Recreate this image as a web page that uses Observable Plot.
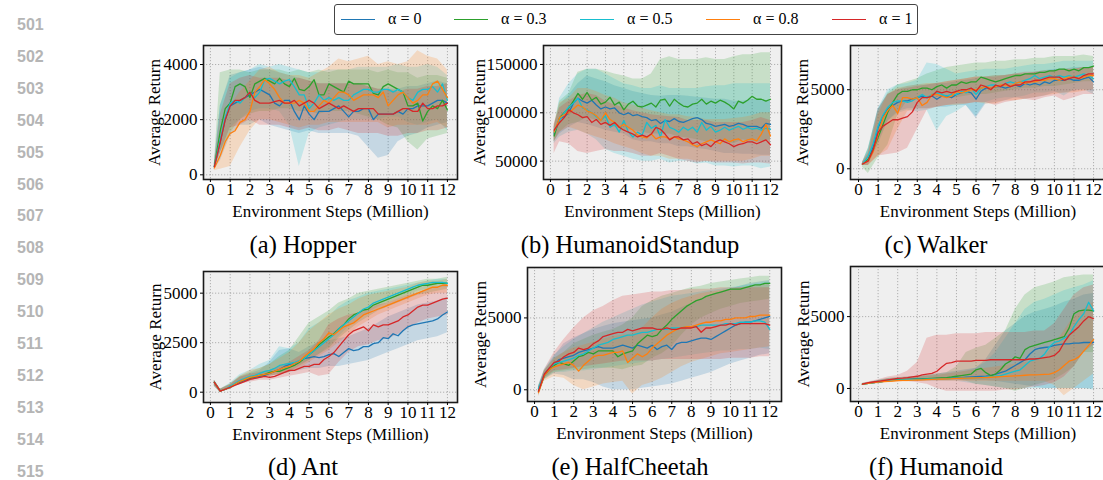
<!DOCTYPE html>
<html><head><meta charset="utf-8">
<script src="https://cdn.jsdelivr.net/npm/d3@7"></script>
<script src="https://cdn.jsdelivr.net/npm/@observablehq/plot@0.6"></script>
<style>
html,body{margin:0;padding:0;background:#fff;}
body{width:1103px;height:480px;overflow:hidden;position:relative;font-family:"Liberation Serif","Times New Roman",serif;}
.lineno{position:absolute;left:17px;font-family:"Liberation Sans",Arial,sans-serif;font-weight:bold;font-size:16px;color:#b5b5b5;line-height:16px;}
.caption{position:absolute;width:400px;text-align:center;font-size:24.5px;line-height:28px;color:#000;font-family:"Liberation Serif","Times New Roman",serif;}
.legend{position:absolute;left:334px;top:4px;width:582px;height:29px;border:1px solid #444;border-radius:3px;background:#fff;}
.lg-line{position:absolute;height:1.4px;top:14px;width:34px;}
.lg-text{position:absolute;top:4px;font-size:16px;line-height:20px;color:#000;white-space:nowrap;}
</style></head>
<body>
<script>
// ---------- series ----------
const seriesNames = ["α = 0", "α = 0.3", "α = 0.5", "α = 0.8", "α = 1"];
const seriesColors = ["#1f77b4", "#2ca02c", "#17becf", "#ff7f0e", "#d62728"];
const xTicks = [0,1,2,3,4,5,6,7,8,9,10,11,12];
// x positions (million steps) of mean curves and of band edges
const xLine = [0.2,0.5,0.75,1, 1.25,1.5,1.75,2, 2.25,2.5,2.75,3, 3.25,3.5,3.75,4, 4.25,4.5,4.75,5, 5.25,5.5,5.75,6, 6.25,6.5,6.75,7, 7.25,7.5,7.75,8, 8.25,8.5,8.75,9, 9.25,9.5,9.75,10, 10.25,10.5,10.75,11, 11.25,11.5,11.75,12];
const xBand = [0.2,0.5,1,1.5,2,2.5,3,3.5,4,4.5,5,5.5,6,6.5,7,7.5,8,8.5,9,9.5,10,10.5,11,11.5,12];

// values in thousands (order: α=0, 0.3, 0.5, 0.8, 1)
const hopperMean = [
 [0.3,1.2,2.0,2.5, 2.6,2.7,2.8,2.9, 3.0,3.1,3.0,2.9, 2.6,2.5,2.7,2.7, 2.3,2.0,2.5,2.2, 2.0,2.3,2.3,2.3, 2.4,2.5,2.3,2.1, 2.3,2.3,2.4,2.4, 2.0,2.2,2.2,2.2, 2.2,2.3,2.2,2.4, 2.4,2.5,2.5,2.5, 2.6,2.7,2.7,2.6],
 [0.3,1.6,2.4,2.6, 3.2,3.3,3.2,2.8, 3.3,3.4,3.5,3.4, 3.3,3.5,3.3,3.2, 3.5,3.1,3.05,3.2, 3.45,2.9,2.9,3.3, 3.2,3.1,3.0,3.4, 3.3,3.3,3.3,3.3, 2.95,2.9,3.2,3.3, 3.2,3.1,3.0,2.5, 2.5,2.6,1.95,2.3, 2.5,2.4,2.7,2.35],
 [0.3,1.3,2.1,2.6, 2.7,2.6,2.8,3.0, 2.8,3.0,3.45,3.5, 3.4,3.3,3.4,3.45, 3.2,2.9,2.9,2.4, 2.6,2.9,2.7,2.8, 2.7,2.8,2.7,2.7, 2.9,3.0,3.1,3.1, 3.0,3.0,3.1,3.1, 3.0,3.1,3.0,2.8, 2.7,3.0,3.1,3.1, 3.2,3.0,3.3,2.7],
 [0.25,0.7,1.2,1.5, 1.6,1.9,2.0,2.3, 3.0,3.2,3.45,3.3, 3.1,2.8,2.6,2.6, 2.6,2.7,2.6,2.3, 2.3,2.5,2.7,2.6, 2.8,3.0,3.0,2.9, 2.7,2.8,2.9,2.9, 2.9,2.8,3.0,2.5, 2.7,2.9,3.0,2.8, 2.6,2.7,2.9,2.9, 3.3,3.4,3.1,2.8],
 [0.3,1.2,2.0,2.5, 2.7,2.7,2.8,3.0, 2.7,2.6,2.6,2.6, 2.65,2.7,2.6,2.6, 2.7,2.5,2.6,2.7, 2.6,2.4,2.5,2.6, 2.5,2.4,2.5,2.4, 2.3,2.4,2.4,2.4, 2.4,2.2,2.2,2.2, 2.2,2.3,2.4,2.4, 2.3,2.3,2.6,2.4, 2.4,2.5,2.5,2.6]
];
const hopperLow = [
 [0.2,0.5,1.4,1.8,1.8,2.0,1.8,1.7,1.6,1.5,1.6,1.5,1.5,1.5,1.5,1.4,1.0,0.6,0.7,1.2,1.4,1.5,1.7,1.8,1.9],
 [0.2,0.8,1.5,2.0,2.2,2.3,2.3,2.4,2.4,2.3,2.3,2.2,2.3,2.3,2.3,2.2,2.1,2.0,1.8,1.7,1.2,0.9,1.3,1.4,1.5],
 [0.2,0.8,1.7,2.0,2.3,2.4,2.4,2.3,1.8,0.3,1.5,1.7,1.8,1.9,2.0,2.0,2.0,2.0,2.1,2.1,1.9,1.8,1.9,2.0,1.6],
 [0.15,0.2,0.3,1.0,1.6,2.0,2.0,1.9,1.8,1.7,1.8,1.8,1.9,1.9,1.9,1.9,1.9,1.9,1.7,1.8,1.8,1.8,1.8,1.9,1.7],
 [0.2,0.8,1.7,1.8,2.0,1.8,1.8,1.8,1.7,1.6,1.7,1.6,1.6,1.7,1.6,1.5,1.5,1.5,1.4,1.4,1.5,1.5,1.6,1.6,1.7]
];
const hopperHigh = [
 [0.4,2.5,3.6,3.7,3.8,3.9,3.8,3.7,3.6,3.5,3.4,3.3,3.3,3.3,3.3,3.3,3.2,3.1,3.1,3.1,3.2,3.2,3.3,3.4,3.3],
 [0.4,3.7,3.8,3.8,3.7,3.8,3.8,3.8,3.7,3.8,3.7,3.8,3.7,3.8,3.8,3.8,3.8,3.7,3.8,3.7,3.7,3.5,3.6,3.6,3.5],
 [0.4,2.5,3.5,3.7,3.8,4.0,3.9,4.0,3.9,3.8,3.7,3.7,3.8,3.8,3.8,3.9,3.9,3.9,3.9,4.0,3.9,3.9,4.0,3.9,3.6],
 [0.4,1.5,2.5,3.0,3.4,3.8,3.9,3.7,3.6,3.6,3.5,3.7,3.9,4.2,4.1,4.2,4.3,4.0,4.1,4.0,4.1,4.5,4.3,4.2,3.8],
 [0.4,2.2,3.3,3.5,3.6,3.5,3.5,3.5,3.4,3.5,3.4,3.3,3.3,3.3,3.3,3.3,3.2,3.1,3.1,3.0,3.1,3.1,3.2,3.2,3.3]
];

const standupMean = [
 [78,94,96,100, 110,115,112,110, 113,108,104,106, 104,105,100,98, 100,97,98,96, 95,92,93,89, 92,91,94,91, 90,92,94,95, 93,89,88,86, 87,88,86,87, 89,88,86,86, 86,84,89,88],
 [76,95,100,105, 112,120,114,121, 113,116,109,111, 116,108,111,103, 109,112,107,106, 108,110,106,113, 114,107,114,110, 107,106,109,110, 114,109,112,110, 113,111,108,104, 112,110,113,117, 114,114,112,114],
 [80,92,100,106, 110,115,105,103, 100,96,92,97, 85,88,80,92, 80,75,80,77, 90,84,87,75, 93,85,83,80, 85,82,85,80, 90,82,86,80, 82,85,82,84, 86,83,85,83, 84,82,84,83],
 [80,95,98,100, 104,108,106,102, 100,97,92,100, 93,90,85,88, 85,82,77,75, 74,78,73,75, 75,73,75,73, 72,70,67,65, 68,70,72,70, 68,73,70,72, 73,70,72,73, 71,78,88,76],
 [82,90,95,103, 100,98,95,96, 90,93,88,90, 87,90,85,82, 80,78,75,77, 75,78,85,83, 78,72,75,75, 72,73,68,70, 66,68,65,70, 72,70,68,65, 67,68,70,70, 68,70,72,67]
];
const standupLow = [
 [70,78,85,90,88,85,82,80,78,72,70,70,68,68,65,65,63,62,60,58,58,57,57,56,56],
 [70,80,88,90,95,92,88,85,82,82,80,78,78,78,75,74,72,70,72,70,68,72,70,70,72],
 [68,75,80,82,78,72,62,58,55,52,50,50,52,48,50,50,47,48,45,45,44,45,45,42,44],
 [70,80,85,82,78,75,72,68,65,62,58,55,55,52,52,52,50,50,50,50,50,50,52,55,55],
 [58,70,68,60,58,60,62,60,60,58,55,55,58,55,52,50,48,50,48,48,48,47,48,48,47]
];
const standupHigh = [
 [85,108,118,130,138,135,132,128,125,122,120,118,117,118,118,117,116,115,114,114,112,112,114,113,112],
 [85,112,120,142,145,145,143,140,138,135,135,140,155,158,155,155,155,157,155,155,158,160,160,162,162],
 [85,115,130,140,145,145,140,135,130,128,125,125,128,125,125,125,125,127,128,128,130,130,130,130,130],
 [88,110,115,125,125,122,118,115,110,108,105,102,100,98,98,96,95,93,93,93,94,95,97,100,100],
 [88,105,112,118,120,118,112,108,105,102,100,98,97,96,95,92,92,92,90,90,90,90,92,95,92]
];

const walkerMean = [
 [0.3,0.6,1.4,2.6, 3.3,3.8,4.0,4.2, 4.3,4.3,4.4,4.5, 4.6,4.5,4.6,4.4, 4.6,4.6,4.5,4.7, 4.8,4.9,4.8,4.4, 4.9,5.1,5.1,5.2, 5.2,5.1,5.2,5.3, 5.2,5.4,5.3,5.4, 5.3,5.5,5.4,5.6, 5.6,5.6,5.7,5.6, 5.6,5.7,5.8,5.5],
 [0.3,0.6,1.2,2.0, 2.8,3.6,4.2,4.7, 4.9,4.9,5.0,5.0, 5.1,5.1,5.0,5.2, 5.3,5.1,5.3,5.3, 5.5,5.4,5.5,5.5, 5.8,5.7,5.6,5.5, 5.6,5.7,5.8,5.9, 5.9,6.0,6.0,6.0, 6.1,6.1,6.2,6.2, 6.3,6.3,6.2,6.3, 6.2,6.4,6.4,6.5],
 [0.3,0.8,1.6,2.7, 3.4,3.9,4.2,4.3, 4.3,4.2,4.3,4.5, 4.7,4.5,4.7,4.8, 4.7,4.6,4.7,4.7, 4.9,4.8,5.1,4.7, 5.1,5.2,5.3,5.3, 5.2,5.4,5.5,5.4, 5.5,5.6,5.7,5.9, 5.7,5.8,5.9,5.8, 5.9,5.8,5.9,5.8, 5.9,6.0,5.9,5.7],
 [0.3,0.5,1.1,2.2, 3.2,3.7,4.0,3.5, 4.5,4.5,4.4,4.5, 4.0,4.2,4.7,4.7, 4.6,4.5,4.6,4.9, 4.8,4.9,5.0,5.0, 5.1,5.2,5.1,5.2, 5.3,5.3,5.2,5.4, 5.5,5.4,5.5,5.5, 5.6,5.6,5.7,5.7, 5.6,5.7,5.8,5.8, 5.7,5.8,5.9,5.9],
 [0.3,0.5,1.2,2.3, 2.7,2.9,3.1,3.1, 3.2,3.3,3.6,4.2, 4.5,4.5,4.6,4.9, 4.8,4.9,4.8,4.9, 5.0,5.0,5.1,4.9, 5.3,5.2,5.0,5.3, 5.2,5.4,5.2,5.3, 5.3,5.5,5.5,5.6, 5.6,5.7,5.8,5.8, 5.8,5.6,5.7,5.8, 5.7,5.9,6.0,6.0]
];
const walkerLow = [
 [0.2,0.2,1.5,3.0,3.6,3.8,3.8,3.8,3.9,3.9,4.0,4.0,3.2,4.1,4.2,4.3,4.5,4.4,4.5,4.6,4.8,4.8,4.9,5.0,4.9],
 [0.1,-0.3,0.7,1.5,3.4,4.3,4.4,4.5,4.5,4.5,4.5,4.6,4.7,4.7,4.8,4.9,5.0,5.1,5.1,5.2,5.2,5.3,5.4,5.5,5.5],
 [0.2,0.4,1.8,3.0,3.5,3.7,3.6,3.7,2.4,3.3,3.6,4.0,3.3,4.2,4.4,4.5,4.5,4.6,4.8,4.8,4.9,4.6,5.0,5.0,4.7],
 [0.2,0.2,0.8,1.2,2.5,3.6,3.8,3.8,3.9,4.0,4.0,4.1,4.2,4.1,4.1,4.3,4.3,4.4,4.5,4.6,4.7,4.8,4.8,4.9,5.0],
 [0.2,0.2,0.8,0.9,1.0,1.3,2.5,3.7,3.9,4.0,4.1,4.1,4.2,4.2,4.0,4.2,4.3,4.4,4.3,4.5,4.6,4.3,4.5,4.7,4.7]
];
const walkerHigh = [
 [0.4,1.2,3.8,4.7,5.0,5.2,5.3,5.3,5.4,5.4,5.5,5.6,5.7,5.8,5.9,5.9,6.0,6.0,6.1,6.2,6.3,6.3,6.4,6.4,6.4],
 [0.4,1.3,3.7,4.8,5.3,5.5,5.7,6.0,6.2,6.4,6.5,6.6,6.7,6.7,6.8,6.8,6.9,6.9,7.0,7.0,7.1,7.1,7.1,7.2,7.1],
 [0.4,1.3,3.8,5.0,5.3,5.4,5.6,6.7,6.6,6.3,6.0,6.1,6.2,6.3,6.3,6.3,6.4,6.5,6.6,6.6,6.7,6.8,6.8,6.8,6.8],
 [0.4,0.9,3.4,4.7,5.1,5.2,5.3,5.4,5.4,5.5,5.6,5.7,5.8,5.8,5.9,5.9,6.0,6.0,6.1,6.1,6.2,6.3,6.3,6.4,6.4],
 [0.4,1.0,3.7,4.7,5.0,5.1,5.2,5.3,5.4,5.5,5.6,5.7,5.8,5.8,5.8,5.9,6.0,6.1,6.1,6.2,6.2,6.3,6.3,6.4,6.4]
];

const antMean = [
 [0.5,0.05,0.15,0.25, 0.4,0.5,0.6,0.7, 0.75,0.8,0.85,0.95, 1.05,1.15,1.3,1.4, 1.45,1.55,1.7,1.75, 1.8,1.75,1.8,1.9, 1.95,1.8,2.0,2.2, 2.1,2.15,2.3,2.3, 2.45,2.5,2.75,2.7, 2.95,2.85,3.1,3.3, 3.4,3.45,3.5,3.55, 3.6,3.7,3.9,4.05],
 [0.5,0.05,0.15,0.25, 0.4,0.55,0.65,0.7, 0.8,0.85,0.9,1.0, 1.05,1.05,1.15,1.25, 1.35,1.5,1.7,1.9, 2.1,2.4,2.6,2.8, 2.95,3.2,3.4,3.7, 3.9,4.0,4.15,4.2, 4.4,4.5,4.6,4.7, 4.8,4.9,5.0,5.1, 5.2,5.3,5.4,5.4, 5.45,5.5,5.5,5.5],
 [0.5,0.05,0.15,0.3, 0.45,0.6,0.7,0.8, 0.85,0.95,1.05,1.1, 1.2,1.35,1.4,1.45, 1.5,1.6,1.7,1.9, 2.1,2.3,2.5,2.7, 2.9,3.2,3.4,3.6, 3.8,4.0,4.2,4.3, 4.5,4.6,4.7,4.8, 4.9,5.0,5.1,5.2, 5.3,5.4,5.45,5.5, 5.55,5.55,5.55,5.5],
 [0.5,0.05,0.15,0.25, 0.4,0.55,0.65,0.75, 0.8,0.85,0.9,0.95, 1.05,1.15,1.25,1.3, 1.45,1.55,1.8,2.0, 2.2,2.5,2.7,3.0, 2.9,3.1,3.3,3.4, 3.5,3.7,3.9,4.0, 4.1,4.2,4.3,4.4, 4.5,4.6,4.7,4.8, 4.9,5.0,5.1,5.2, 5.3,5.3,5.4,5.4],
 [0.5,0.05,0.15,0.25, 0.35,0.45,0.55,0.65, 0.7,0.75,0.8,0.75, 0.8,0.9,1.0,1.1, 1.1,1.2,1.3,1.3, 1.4,1.4,1.65,1.8, 2.0,2.3,2.6,2.9, 3.1,3.2,3.3,3.1, 3.4,3.3,3.4,3.4, 3.5,3.6,3.8,3.9, 4.1,4.3,4.4,4.4, 4.5,4.6,4.7,4.75]
];
const antLow = [
 [0.3,0,0.15,0.4,0.55,0.7,0.8,0.9,1.0,1.1,1.2,1.2,1.3,1.3,1.4,1.5,1.6,1.8,2.0,2.2,2.4,2.6,2.7,2.8,3.0],
 [0.3,0,0.15,0.45,0.6,0.7,0.8,0.9,1.0,1.3,1.6,1.9,2.2,2.7,3.1,3.5,3.8,4.1,4.3,4.5,4.7,4.9,5.0,5.1,5.2],
 [0.3,0,0.2,0.5,0.65,0.8,0.95,1.1,1.2,1.4,1.6,1.9,2.3,2.8,3.3,3.7,4.0,4.3,4.5,4.7,4.9,5.1,5.2,5.3,5.3],
 [0.3,0,0.15,0.45,0.6,0.7,0.8,0.9,1.0,1.2,1.5,1.8,2.1,2.5,2.9,3.3,3.6,3.9,4.1,4.3,4.5,4.7,4.9,5.0,5.0],
 [0.3,0,0.15,0.4,0.5,0.6,0.6,0.7,0.8,0.9,1.0,0.8,0.9,1.5,2.0,2.3,2.4,2.6,2.7,2.9,3.2,3.5,3.7,3.8,3.9]
];
const antHigh = [
 [0.6,0.15,0.4,0.75,0.95,1.1,1.5,2.1,2.2,2.0,2.3,2.5,2.6,2.7,2.8,3.0,3.2,3.5,3.8,4.0,4.2,4.4,4.5,4.6,4.8],
 [0.6,0.15,0.4,0.8,1.0,1.2,1.4,1.8,2.1,2.8,3.5,3.8,4.1,4.5,4.7,5.0,5.1,5.2,5.3,5.4,5.5,5.6,5.7,5.7,5.8],
 [0.6,0.15,0.45,0.9,1.1,1.4,1.6,2.3,2.2,2.5,3.2,3.5,3.8,4.3,4.6,4.8,5.0,5.1,5.2,5.3,5.4,5.5,5.6,5.7,5.7],
 [0.6,0.15,0.4,0.8,1.1,1.2,1.4,1.7,2.0,2.5,3.1,3.5,3.9,4.2,4.4,4.7,4.9,5.0,5.1,5.2,5.3,5.5,5.6,5.6,5.7],
 [0.6,0.15,0.35,0.75,0.9,1.0,1.1,1.3,1.5,1.8,2.1,2.6,3.4,3.7,3.9,4.0,4.2,4.4,4.5,4.7,4.9,5.0,5.2,5.3,5.5]
];

const cheetahMean = [
 [-0.1,1.0,1.5,1.8, 2.1,2.2,2.3,2.4, 2.6,2.7,2.8,2.9, 3.0,2.9,2.9,2.9, 3.0,3.1,3.0,2.9, 3.1,3.0,2.9,3.1, 2.8,3.0,3.1,2.8, 3.2,3.3,3.3,3.4, 3.5,3.6,3.6,3.5, 3.7,3.9,4.1,4.3, 4.5,4.6,4.7,4.7, 4.8,4.9,5.0,5.1],
 [-0.1,1.0,1.4,1.7, 1.9,1.8,1.7,2.0, 2.3,2.4,2.6,2.5, 2.7,2.7,2.7,2.7, 2.3,2.5,2.6,2.7, 3.2,3.5,3.8,3.7, 3.8,4.2,4.5,4.9, 5.2,5.5,5.8,6.0, 6.2,6.3,6.5,6.6, 6.7,6.8,6.9,7.0, 7.0,7.0,7.1,7.2, 7.3,7.3,7.4,7.4],
 [0.1,1.1,1.5,1.8, 1.9,2.0,2.1,2.2, 2.4,2.5,2.7,2.9, 3.1,3.2,3.3,3.5, 3.6,3.7,3.8,3.8, 3.9,4.0,4.0,4.1, 4.2,4.2,4.2,4.3, 4.3,4.3,4.4,4.4, 4.4,4.5,4.5,4.5, 4.5,4.5,4.6,4.6, 4.6,4.7,4.7,4.7, 4.8,4.8,4.7,4.2],
 [-0.2,1.0,1.4,1.6, 1.7,1.8,1.9,1.7, 1.3,1.7,2.0,2.3, 2.4,2.4,2.5,2.6, 2.6,2.7,1.9,2.2, 2.5,2.3,2.5,2.9, 3.2,3.5,3.8,4.0, 4.2,4.3,4.4,4.4, 4.5,4.6,4.7,4.7, 4.8,4.8,4.9,4.9, 5.0,5.0,5.0,5.1, 5.1,5.2,5.2,5.2],
 [-0.1,1.1,1.5,1.9, 2.0,2.3,2.5,2.6, 2.9,2.8,2.9,3.2, 3.4,3.7,3.8,3.9, 4.0,4.0,4.2,4.1, 4.2,4.3,4.3,4.3, 4.2,4.2,4.3,4.2, 4.2,4.3,4.3,4.3, 4.4,4.0,4.3,4.3, 4.4,4.5,4.5,4.6, 4.5,4.6,4.6,4.6, 4.6,4.6,4.6,4.5]
];
const cheetahLow = [
 [-0.4,0.7,1.1,1.0,0.7,0.7,0.5,0.2,0,0,0,0.1,0.2,0.3,0.4,0.6,0.8,1.0,1.2,1.5,1.8,2.0,2.2,2.4,2.5],
 [-0.4,0.7,1.2,1.3,1.4,1.4,1.5,1.5,1.5,1.4,1.6,1.7,2.2,2.5,3.0,3.8,4.5,5.0,5.3,5.6,5.8,6.0,6.1,6.2,6.3],
 [-0.2,0.8,1.2,1.2,1.3,1.3,1.4,1.5,1.6,1.7,1.8,1.9,2.0,2.1,2.2,2.3,2.4,2.5,2.6,2.7,2.7,2.8,2.8,2.9,2.8],
 [-0.5,0.6,0.9,0.8,0.3,0,0.2,0.4,0.5,0.6,-0.3,0.3,0.5,0.8,1.2,1.6,1.9,2.1,2.3,2.5,2.6,2.7,2.8,2.9,3.0],
 [-0.3,0.8,1.3,1.4,1.5,1.6,1.7,1.8,1.9,2.0,2.0,2.0,2.0,2.1,2.1,2.1,2.1,2.1,2.1,2.1,2.2,2.2,2.2,2.3,2.3]
];
const cheetahHigh = [
 [0.2,1.3,2.3,3.2,3.6,3.9,4.2,4.4,4.6,4.7,4.8,4.9,5.0,5.2,5.4,5.7,6.0,6.3,6.6,6.8,7.0,7.2,7.4,7.5,7.6],
 [0.2,1.3,2.2,2.6,3.2,3.5,3.8,4.0,4.2,4.5,5.0,5.8,6.2,6.5,6.7,6.9,7.1,7.2,7.4,7.5,7.6,7.7,7.8,7.9,7.9],
 [0.3,1.4,2.4,3.0,3.5,3.9,4.3,4.7,5.0,5.3,5.6,5.9,6.1,6.3,6.5,6.6,6.7,6.8,6.9,7.0,7.1,7.2,7.3,7.4,7.5],
 [0.1,1.3,2.1,2.6,2.9,3.1,3.3,3.5,3.7,3.8,3.9,4.3,5.0,5.6,6.0,6.3,6.5,6.7,6.8,6.9,7.0,7.1,7.2,7.3,7.4],
 [0.2,1.4,2.6,3.5,4.3,5.0,5.5,5.8,6.2,6.5,6.6,6.7,6.8,6.8,6.9,6.9,7.0,7.0,7.0,7.1,7.1,7.1,7.1,7.1,7.1]
];

const humanoidMean = [
 [0.3,0.35,0.4,0.45, 0.5,0.55,0.58,0.6, 0.62,0.64,0.65,0.66, 0.67,0.68,0.69,0.7, 0.71,0.72,0.73,0.75, 0.76,0.78,0.8,0.82, 0.84,0.86,0.9,1.0, 1.1,1.2,1.4,1.6, 1.8,2.0,2.4,2.7, 2.8,2.85,2.9,3.0, 3.05,3.1,3.1,3.15, 3.15,3.2,3.2,3.2],
 [0.3,0.35,0.4,0.45, 0.5,0.55,0.58,0.6, 0.62,0.63,0.64,0.65, 0.66,0.68,0.7,0.72, 0.74,0.76,0.8,0.85, 0.9,0.95,1.0,1.3, 1.4,1.1,0.9,1.0, 1.3,1.7,1.9,2.2, 2.1,2.7,2.9,3.0, 3.1,3.2,3.3,3.4, 3.5,3.6,4.2,5.2, 5.4,5.45,5.45,5.4],
 [0.3,0.35,0.4,0.45, 0.5,0.53,0.56,0.58, 0.6,0.61,0.62,0.63, 0.64,0.65,0.66,0.67, 0.68,0.69,0.7,0.71, 0.72,0.73,0.74,0.75, 0.76,0.78,0.8,0.85, 0.9,1.0,1.1,1.2, 1.3,1.6,1.9,2.0, 2.1,2.4,2.9,3.2, 3.3,3.5,3.7,4.3, 4.8,5.2,6.0,5.4],
 [0.3,0.35,0.4,0.45, 0.48,0.5,0.52,0.54, 0.56,0.57,0.58,0.59, 0.6,0.62,0.64,0.65, 0.66,0.67,0.68,0.7, 0.71,0.72,0.73,0.74, 0.75,0.76,0.78,0.8, 0.82,0.84,0.86,0.88, 0.9,0.92,0.94,0.95, 0.96,0.98,1.0,1.1, 1.3,1.6,1.9,2.0, 2.2,2.6,3.0,3.4],
 [0.3,0.4,0.45,0.5, 0.55,0.6,0.65,0.7, 0.72,0.75,0.8,0.85, 0.95,1.0,1.05,1.2, 1.5,1.75,1.8,1.9, 1.9,1.9,1.9,1.95, 1.95,1.95,2.0,2.0, 2.0,2.0,2.0,2.0, 2.0,2.0,2.05,2.05, 2.1,2.15,2.2,2.3, 2.6,3.2,3.7,4.0, 4.3,4.7,5.0,4.85]
];
const humanoidLow = [
 [0.25,0.3,0.35,0.45,0.5,0.5,0.5,0.55,0.55,0.55,0.55,0.55,0.55,0.55,0.5,0.4,0.3,0.2,0.1,0,0,0,0,0,0],
 [0.25,0.3,0.35,0.45,0.5,0.5,0.55,0.55,0.55,0.55,0.6,0.5,0.3,0.2,0.1,0,-0.2,0,0.2,0.4,0.6,1.0,1.5,2.5,2.5],
 [0.25,0.3,0.35,0.45,0.5,0.5,0.5,0.5,0.5,0.5,0.5,0.4,0.3,0.2,0.1,0,0,0,0,0,0,0,0,0,-0.1],
 [0.25,0.3,0.35,0.4,0.45,0.45,0.5,0.5,0.5,0.5,0.5,0.5,0.5,0.5,0.5,0.5,0.5,0.5,0.5,0.5,0.2,-0.5,0,0.5,1.0],
 [0.25,0.3,0.35,0.45,0.5,0.5,0.4,0.3,0,-0.2,-0.2,-0.2,-0.2,-0.2,-0.2,-0.1,-0.1,0,0.1,0.2,0.4,0.8,1.5,2.5,3.0]
];
const humanoidHigh = [
 [0.35,0.4,0.55,0.7,0.75,0.8,0.85,0.9,1.0,1.1,1.2,1.3,1.4,2.0,3.0,4.0,4.5,5.0,5.3,5.5,5.7,6.0,6.2,6.5,6.6],
 [0.35,0.4,0.55,0.7,0.75,0.8,0.85,0.9,1.0,1.1,1.5,2.5,2.8,3.0,3.5,4.0,5.5,6.5,7.0,7.2,7.4,7.7,7.8,7.9,7.9],
 [0.35,0.4,0.55,0.65,0.7,0.75,0.8,0.85,0.9,1.0,1.1,1.2,1.4,1.8,2.5,3.5,4.5,5.5,6.0,6.2,6.5,6.8,7.0,7.2,7.5],
 [0.35,0.4,0.5,0.65,0.7,0.75,0.8,0.85,0.9,1.0,1.1,1.2,1.3,1.4,1.5,1.6,1.7,1.8,1.9,2.2,3.0,4.0,5.0,5.5,6.0],
 [0.35,0.45,0.6,0.8,0.9,1.2,1.8,3.5,3.7,3.7,3.8,3.8,3.8,3.9,3.9,3.9,3.9,3.9,4.0,4.0,4.5,5.5,6.5,7.0,7.2]
];

const captions = ["(a) Hopper", "(b) HumanoidStandup", "(c) Walker", "(d) Ant", "(e) HalfCheetah", "(f) Humanoid"];
const lineNumbers = [501,502,503,504,505,506,507,508,509,510,511,512,513,514,515];
const xLabel = "Environment Steps (Million)";
const yLabel = "Average Return";

// ---------- layout (pixels / domains) ----------
const panels = [
 {mean: hopperMean, lo: hopperLow, hi: hopperHigh, unit: 1000, frame: [203,457,45,179], xdom: [-0.35,12.51], ydom: [-170,4690], yTicks: [0,2000,4000], yLabOff: 56, cap: [303,245]},
 {mean: standupMean, lo: standupLow, hi: standupHigh, unit: 1000, frame: [543,781,45,179], xdom: [-0.38,12.6], ydom: [31000,169600], yTicks: [50000,100000,150000], yLabOff: 71, cap: [630,245]},
 {mean: walkerMean, lo: walkerLow, hi: walkerHigh, unit: 1000, frame: [850,1105,45,179], xdom: [-0.41,12.61], ydom: [-680,7800], yTicks: [0,5000], yLabOff: 55, cap: [936,245]},
 {mean: antMean, lo: antLow, hi: antHigh, unit: 1000, frame: [203,457,271,402], xdom: [-0.35,12.51], ydom: [-520,6094], yTicks: [0,2500,5000], yLabOff: 55, cap: [303,467]},
 {mean: cheetahMean, lo: cheetahLow, hi: cheetahHigh, unit: 1000, frame: [527,781,267,401], xdom: [-0.36,12.6], ydom: [-816,8508], yTicks: [0,5000], yLabOff: 54, cap: [630,467]},
 {mean: humanoidMean, lo: humanoidLow, hi: humanoidHigh, unit: 1000, frame: [850,1105,266,401], xdom: [-0.41,12.61], ydom: [-906,8487], yTicks: [0,5000], yLabOff: 54, cap: [936,467]}
];

const FONT = "'Liberation Serif','Times New Roman',serif";
const ML = 85, MR = 10, MT = 10, MB = 50;

function buildLines(mean, unit) {
  return mean.flatMap((row, s) => row.map((v, i) => ({x: xLine[i], y: v * unit, s: seriesNames[s]})));
}
function buildBands(lo, hi, unit) {
  return lo.flatMap((row, s) => row.map((v, i) => ({x: xBand[i], lo: v * unit, hi: hi[s][i] * unit, s: seriesNames[s]})));
}

panels.forEach((p, k) => {
  const [fx0, fx1, fy0, fy1] = p.frame;
  const w = fx1 - fx0 + ML + MR, h = fy1 - fy0 + MT + MB;
  const chart = Plot.plot({
    width: w, height: h,
    marginLeft: ML, marginRight: MR, marginTop: MT, marginBottom: MB,
    style: {fontFamily: FONT, fontSize: "17px", color: "#000", background: "transparent", overflow: "visible"},
    x: {domain: p.xdom},
    y: {domain: p.ydom},
    color: {domain: seriesNames, range: seriesColors},
    marks: [
      Plot.frame({fill: "#efefef", stroke: "none"}),
      Plot.gridX(xTicks, {stroke: "#a8a8a8", strokeOpacity: 1, strokeWidth: 0.9, strokeDasharray: "1.2,1.8"}),
      Plot.gridY(p.yTicks, {stroke: "#a8a8a8", strokeOpacity: 1, strokeWidth: 0.9, strokeDasharray: "1.2,1.8"}),
      Plot.areaY(buildBands(p.lo, p.hi, p.unit), {x: "x", y1: "lo", y2: "hi", z: "s", fill: "s", fillOpacity: 0.2, clip: true}),
      Plot.line(buildLines(p.mean, p.unit), {x: "x", y: "y", z: "s", stroke: "s", strokeWidth: 1.3, clip: true}),
      Plot.frame({stroke: "#1a1a1a", strokeWidth: 1.6}),
      Plot.axisX(xTicks, {tickSize: 3, tickPadding: 0, tickFormat: d => String(d), label: xLabel, labelAnchor: "center", labelArrow: "none", labelOffset: 37}),
      Plot.axisY(p.yTicks, {tickSize: 3, tickPadding: 3, tickFormat: d => String(d), label: yLabel, labelAnchor: "center", labelArrow: "none", labelOffset: p.yLabOff})
    ]
  });
  chart.style.position = "absolute";
  chart.style.left = (fx0 - ML) + "px";
  chart.style.top = (fy0 - MT) + "px";
  document.body.appendChild(chart);

  const cap = document.createElement("div");
  cap.className = "caption";
  cap.textContent = captions[k];
  cap.style.left = (p.cap[0] - 200) + "px";
  cap.style.top = (p.cap[1] - 14) + "px";
  document.body.appendChild(cap);
});

// line numbers in margin
lineNumbers.forEach((n, i) => {
  const d = document.createElement("div");
  d.className = "lineno";
  d.textContent = String(n);
  d.style.top = (25 + i * 31.9 - 8) + "px";
  document.body.appendChild(d);
});

// legend
const legend = document.createElement("div");
legend.className = "legend";
const lgLineX = [6, 119, 245, 371, 497];
const lgTextX = [53, 166, 292, 418, 544];
seriesNames.forEach((name, i) => {
  const ln = document.createElement("div");
  ln.className = "lg-line";
  ln.style.left = lgLineX[i] + "px";
  ln.style.background = seriesColors[i];
  legend.appendChild(ln);
  const tx = document.createElement("div");
  tx.className = "lg-text";
  tx.style.left = lgTextX[i] + "px";
  tx.textContent = name;
  legend.appendChild(tx);
});
document.body.appendChild(legend);
</script>
</body></html>
